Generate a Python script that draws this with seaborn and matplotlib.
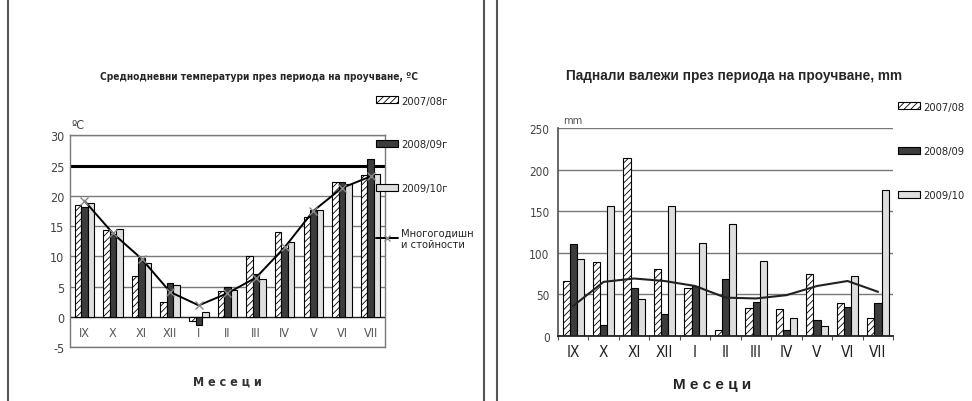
import numpy as np
import pandas as pd
import seaborn as sns
import matplotlib.pyplot as plt
from matplotlib.patches import Patch
from matplotlib.lines import Line2D
from matplotlib.font_manager import FontProperties

months = ['IX', 'X', 'XI', 'XII', 'I', 'II', 'III', 'IV', 'V', 'VI', 'VII']

# temperatures, C
temp_seasons = ['2007/08г', '2008/09г', '2009/10г']
temp_0708 = [18.4, 14.3, 6.8, 2.5, -0.7, 4.2, 10.0, 14.1, 16.5, 22.2, 23.4]
temp_0809 = [18.1, 13.7, 9.8, 5.6, -1.4, 4.9, 7.1, 11.3, 17.7, 22.2, 26.1]
temp_0910 = [18.8, 14.5, 8.9, 5.2, 0.8, 4.4, 6.3, 12.3, 17.6, 22.0, 23.6]
temp_norm = [19.2, 13.8, 9.6, 4.1, 1.9, 3.9, 6.5, 11.5, 17.5, 21.3, 23.2]
temp_ref = 25

# precipitation, mm
rain_seasons = ['2007/08', '2008/09', '2009/10']
rain_0708 = [66, 89, 214, 80, 57, 7, 33, 32, 74, 40, 21]
rain_0809 = [111, 13, 57, 26, 60, 69, 41, 7, 19, 35, 40]
rain_0910 = [93, 156, 44, 156, 112, 135, 90, 21, 12, 72, 176]
rain_norm = [36, 65, 69, 66, 60, 46, 45, 49, 60, 66, 53]

temp_df = pd.DataFrame({'month': months * 3,
                        'season': np.repeat(temp_seasons, len(months)),
                        'value': temp_0708 + temp_0809 + temp_0910})
rain_df = pd.DataFrame({'month': months * 3,
                        'season': np.repeat(rain_seasons, len(months)),
                        'value': rain_0708 + rain_0809 + rain_0910})

sns.set_theme(style='white')
plt.rcParams['font.family'] = ['Liberation Sans', 'DejaVu Sans']
plt.rcParams['hatch.linewidth'] = 0.6
plt.rcParams['axes.unicode_minus'] = False

fills = ['white', '#3c3c3c', '#dedede']
hatches = ['/////', '', '']


def narrow(size, weight='normal'):
    return FontProperties(family='DejaVu Sans', stretch='condensed',
                          size=size, weight=weight)


def arial(size, weight='normal'):
    return FontProperties(family='Liberation Sans', size=size, weight=weight)


fig = plt.figure(figsize=(9.72, 4.02), dpi=100)

# panel frames
for xf in [8 / 972, 484 / 972, 497 / 972]:
    fig.add_artist(Line2D([xf, xf], [0, 1], color='#555555', lw=1.5))


def style_bars(ax):
    for cont, fc, h in zip(ax.containers, fills, hatches):
        for bar in cont:
            bar.set_facecolor(fc)
            bar.set_edgecolor('black')
            bar.set_linewidth(0.8)
            bar.set_hatch(h)


# ---- left: temperatures
ax1 = fig.add_axes([0.072, 0.134, 0.324, 0.527])
sns.barplot(data=temp_df, x='month', y='value', hue='season', order=months,
            hue_order=temp_seasons, width=0.68, ax=ax1, legend=False)
style_bars(ax1)
ax1.plot(range(len(months)), temp_norm, color='black', lw=1.4, marker='x',
         ms=6, mec='#888888', zorder=5)
ax1.set_ylim(-5, 30)
ax1.set_xlim(-0.5, len(months) - 0.5)
ax1.set_yticks(range(-5, 31, 5))
ax1.set_axisbelow(True)
ax1.yaxis.grid(True, color='#7a7a7a', lw=1)
for val, gl in zip(ax1.get_yticks(), ax1.get_ygridlines()):
    if val == temp_ref:
        gl.set_color('black')
        gl.set_linewidth(2.2)
    elif val == 0:
        gl.set_color('#222222')
ax1.set_xlabel('')
ax1.set_ylabel('')
for s in ax1.spines.values():
    s.set_color('#7a7a7a')
    s.set_linewidth(1)
ax1.tick_params(axis='x', length=0, pad=-15, labelcolor='#555555')
ax1.tick_params(axis='y', length=0, pad=4, labelcolor='#444444')
for lab in ax1.get_xticklabels() + ax1.get_yticklabels():
    lab.set_fontproperties(narrow(9))
ax1.text(0.005, 1.02, 'ºC', transform=ax1.transAxes, color='#444444',
         va='bottom', fontproperties=narrow(9))

fig.text(259 / 972, 1 - 77 / 402,
         'Среднодневни температури през периода на проучване, ºC',
         ha='center', va='center', fontproperties=narrow(7.3, 'bold'))
fig.text(227 / 972, 1 - 382 / 402, 'М е с е ц и', ha='center', va='center',
         color='#333333', fontproperties=narrow(9, 'bold'))

h1 = [Patch(facecolor=fc, edgecolor='black', hatch=h, lw=0.8)
      for fc, h in zip(fills, hatches)]
h1.append(Line2D([], [], color='black', lw=1.4, marker='x', mec='#888888', ms=5))
fig.legend(h1, temp_seasons + ['Многогодишн\nи стойности'], loc='upper left',
           bbox_to_anchor=(370 / 972, 1 - 91 / 402), frameon=False,
           handlelength=2.0, handleheight=0.6, handletextpad=0.3,
           labelspacing=3.05, borderpad=0, prop=narrow(8))

# ---- right: precipitation
ax2 = fig.add_axes([0.574, 0.162, 0.345, 0.517])
sns.barplot(data=rain_df, x='month', y='value', hue='season', order=months,
            hue_order=rain_seasons, width=0.7, ax=ax2, legend=False)
style_bars(ax2)
ax2.plot(range(len(months)), rain_norm, color='#222222', lw=1.5, zorder=5)
ax2.set_ylim(0, 250)
ax2.set_xlim(-0.5, len(months) - 0.5)
ax2.set_yticks(range(0, 251, 50))
ax2.set_axisbelow(True)
ax2.yaxis.grid(True, color='#7a7a7a', lw=1)
ax2.set_xlabel('')
ax2.set_ylabel('')
for side in ['top', 'right']:
    ax2.spines[side].set_visible(False)
ax2.spines['left'].set_color('#555555')
ax2.spines['bottom'].set_color('#222222')
ax2.spines['bottom'].set_linewidth(1.3)
ax2.set_xticks(np.arange(len(months) + 1) - 0.5, minor=True)
ax2.tick_params(axis='x', which='major', length=0, pad=6, labelcolor='#222222')
ax2.tick_params(axis='x', which='minor', bottom=True, length=3, width=0.8,
                color='#555555')
ax2.tick_params(axis='y', length=0, pad=6, labelcolor='#444444')
for lab in ax2.get_xticklabels():
    lab.set_fontproperties(narrow(11))
for lab in ax2.get_yticklabels():
    lab.set_fontproperties(narrow(8.5))
ax2.text(0.015, 1.015, 'mm', transform=ax2.transAxes, color='#555555',
         va='bottom', fontproperties=narrow(8))

fig.text(734 / 972, 1 - 76 / 402,
         'Паднали валежи през периода на проучване, mm',
         ha='center', va='center', fontproperties=arial(9.8, 'bold'))
fig.text(712 / 972, 1 - 385 / 402, 'М е с е ц и', ha='center', va='center',
         color='#222222', fontproperties=arial(11, 'bold'))

h2 = [Patch(facecolor=fc, edgecolor='black', hatch=h, lw=0.8)
      for fc, h in zip(fills, hatches)]
fig.legend(h2, rain_seasons, loc='upper left',
           bbox_to_anchor=(892 / 972, 1 - 97 / 402), frameon=False,
           handlelength=2.0, handleheight=0.6, handletextpad=0.3,
           labelspacing=3.1, borderpad=0, prop=narrow(8))

fig.savefig('out.png', dpi=100)
